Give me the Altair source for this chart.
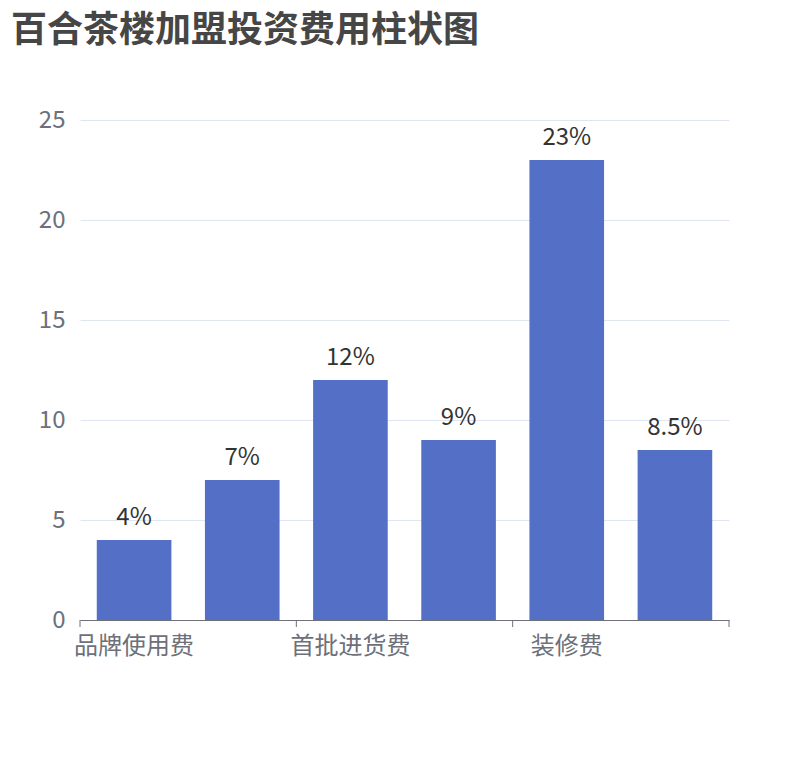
import altair as alt
import pandas as pd

categories = ["品牌使用费", "加盟费", "首批进货费", "设备费", "装修费", "其他费用"]
values = [4, 7, 12, 9, 23, 8.5]
label_texts = ["4%", "7%", "12%", "9%", "23%", "8.5%"]
shown_labels = ["品牌使用费", "首批进货费", "装修费"]
end_category = ["其他费用"]
y_ticks = [0, 5, 10, 15, 20, 25]
title_text = "百合茶楼加盟投资费用柱状图"

df = pd.DataFrame({"cat": categories, "v": values, "lab": label_texts})
tick_df = pd.DataFrame({"cat": shown_labels})
end_df = pd.DataFrame({"cat": end_category})

FONT = "Noto Sans CJK SC"
AXIS_GREY = "#6E7079"
W, H = 649, 500

PAD_INNER = 0.31
xscale = alt.Scale(domain=categories, paddingInner=PAD_INNER, paddingOuter=PAD_INNER / 2)
# pixel gap between a bar's edge and the boundary of its category step
step = W / len(categories)
edge_px = (PAD_INNER / 2) * step

x = alt.X(
    "cat:N", sort=categories, title=None, scale=xscale,
    axis=alt.Axis(values=shown_labels, labelAngle=0, ticks=False,
                  domainColor=AXIS_GREY, labelColor=AXIS_GREY, labelFontSize=24,
                  labelFont=FONT, labelPadding=14, grid=False, labelOverlap=False),
)
y = alt.Y(
    "v:Q", title=None, scale=alt.Scale(domain=[0, 25], nice=False),
    axis=alt.Axis(values=y_ticks, domain=False, ticks=False, gridColor="#E0E6F1",
                  labelColor=AXIS_GREY, labelFontSize=24, labelPadding=15, labelFont=FONT),
)

bars = alt.Chart(df).mark_bar(color="#5470C6").encode(x=x, y=y)
text = alt.Chart(df).mark_text(baseline="alphabetic", dy=-15, fontSize=24, font=FONT,
                               color="#333333").encode(
    x=alt.X("cat:N", sort=categories), y="v:Q", text="lab:N")

ticks_start = alt.Chart(tick_df).mark_rule(color=AXIS_GREY, strokeWidth=1,
                                           xOffset=-edge_px).encode(
    x=alt.X("cat:N", sort=categories, bandPosition=0),
    y=alt.value(H), y2=alt.value(H + 7))
ticks_end = alt.Chart(end_df).mark_rule(color=AXIS_GREY, strokeWidth=1,
                                        xOffset=edge_px).encode(
    x=alt.X("cat:N", sort=categories, bandPosition=1),
    y=alt.value(H), y2=alt.value(H + 7))

chart = (bars + text + ticks_start + ticks_end).properties(
    width=W, height=H,
    autosize="none",
    padding={"left": 72, "top": 112, "right": 73, "bottom": 132},
    title=alt.Title(title_text, anchor="start", frame="group", fontSize=36,
                    fontWeight="bold", color="#464646", font=FONT,
                    baseline="alphabetic", offset=30, dx=-69),
).configure_view(stroke=None)

chart.save("out.html", embed_options={"renderer": "svg", "actions": False})
